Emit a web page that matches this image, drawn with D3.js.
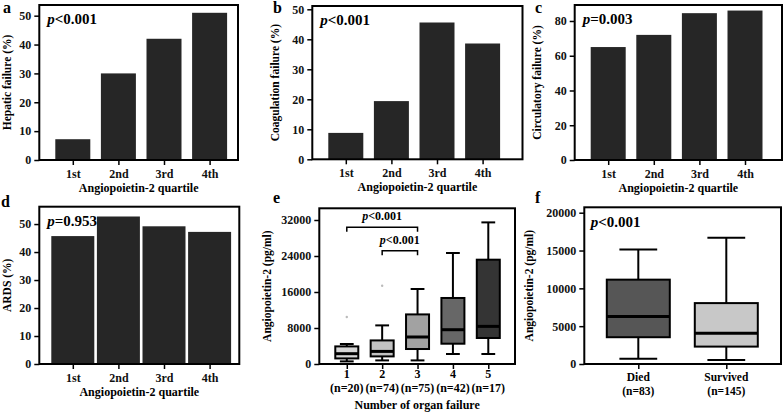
<!DOCTYPE html>
<html>
<head>
<meta charset="utf-8">
<script src="https://cdn.jsdelivr.net/npm/d3@7"></script>
<style>
  body { margin: 0; background: #fff; }
  svg { display: block; font-family: "Liberation Serif", "Times New Roman", serif; font-weight: bold; }
  .tick text { font-family: "Liberation Serif", "Times New Roman", serif; font-size: 12px; font-weight: bold; fill: #111; }
  .tick line { stroke: #000; stroke-width: 1.5; }
</style>
</head>
<body>
<svg id="chart" width="784" height="414"></svg>
<script>
// Bar panels (a-d)
const quartiles = ['1st', '2nd', '3rd', '4th'];
const hepatic = [7.2, 30, 42, 51];
const coagulation = [8.8, 19.4, 45.6, 38.6];
const circulatory = [65, 72, 84.5, 86];
const ards = [45.7, 52.7, 49.2, 47.2];

// Box panel e
const organGroups = ['1', '2', '3', '4', '5'];
const organN = ['(n=20)', '(n=74)', '(n=75)', '(n=42)', '(n=17)'];
const organMin = [580, 800, 800, 2220, 2220];
const organQ1 = [1240, 1690, 3330, 4510, 5780];
const organMedian = [2290, 2800, 6000, 7620, 8360];
const organQ3 = [3910, 5240, 11020, 14670, 23180];
const organMax = [4440, 8580, 16670, 24670, 31470];
const organOutliers = [{ group: '1', value: 10440 }, { group: '2', value: 17400 }];
const organFills = ['#d6d6d6', '#c2c2c2', '#a2a2a2', '#676767', '#343434'];

// Box panel f
const outcomes = ['Died', 'Survived'];
const outcomeN = ['(n=83)', '(n=145)'];
const outcomeMin = [710, 530];
const outcomeQ1 = [3540, 2300];
const outcomeMedian = [6280, 4070];
const outcomeQ3 = [11150, 8050];
const outcomeMax = [15130, 16680];
const outcomeFills = ['#565656', '#c8c8c8'];

const svg = d3.select('#chart');

function frame(g, w, h) {
  g.append('rect')
    .attr('x', 0).attr('y', 0)
    .attr('width', w).attr('height', h)
    .attr('fill', 'none')
    .attr('stroke', '#000')
    .attr('stroke-width', 2);
}

function yAxis(g, y, ticks) {
  g.append('g')
    .call(d3.axisLeft(y).tickValues(ticks).tickSize(5).tickPadding(3).tickFormat(d3.format('d')))
    .call(s => s.select('.domain').remove());
}

function yTitle(p, text) {
  svg.append('text')
    .attr('transform', `translate(${p.titleX}, ${(p.top + p.bottom) / 2}) rotate(-90)`)
    .attr('text-anchor', 'middle')
    .attr('font-size', 11.5)
    .text(text);
}

function panelLetter(letter, x, y) {
  svg.append('text')
    .attr('x', x).attr('y', y)
    .attr('font-size', 16)
    .text(letter);
}

function pText(g, x, y, rest, size) {
  const t = g.append('text').attr('x', x).attr('y', y).attr('font-size', size);
  t.append('tspan').attr('font-style', 'italic').text('p');
  t.append('tspan').text(rest);
}

function barPanel(p, values, ymax, ticks, label, pRest, barW) {
  const w = p.right - p.left, h = p.bottom - p.top;
  const g = svg.append('g').attr('transform', `translate(${p.left}, ${p.top})`);
  const x = d3.scalePoint().domain(quartiles).range([33.5, 170.3]);
  const y = d3.scaleLinear().domain([0, ymax]).range([h, 0]);

  g.selectAll('rect.bar')
    .data(quartiles)
    .join('rect')
    .attr('class', 'bar')
    .attr('x', d => x(d) - barW / 2)
    .attr('width', barW)
    .attr('y', (d, i) => y(values[i]))
    .attr('height', (d, i) => h - y(values[i]))
    .attr('fill', '#262626');

  frame(g, w, h);
  yAxis(g, y, ticks);

  g.append('g')
    .attr('transform', `translate(0, ${h})`)
    .call(d3.axisBottom(x).tickSize(5).tickPadding(4))
    .call(s => s.select('.domain').remove());

  svg.append('text')
    .attr('x', p.left + w / 2)
    .attr('y', p.bottom + 32)
    .attr('text-anchor', 'middle')
    .attr('font-size', 12)
    .text('Angiopoietin-2 quartile');

  yTitle(p, label);
  pText(g, 8, 19, pRest, 15);
}

function boxPanel(p, cats, stats, fills, ymax, ticks, boxW, xDomain, xRange) {
  const w = p.right - p.left, h = p.bottom - p.top;
  const g = svg.append('g').attr('transform', `translate(${p.left}, ${p.top})`);
  const x = d3.scaleLinear().domain(xDomain).range(xRange);
  const y = d3.scaleLinear().domain([0, ymax]).range([h, 0]);
  const cx = i => x(i + 1);

  cats.forEach((c, i) => {
    const xc = cx(i);
    // whiskers
    g.append('line')
      .attr('x1', xc).attr('x2', xc)
      .attr('y1', y(stats.max[i])).attr('y2', y(stats.min[i]))
      .attr('stroke', '#000').attr('stroke-width', 2);
    [stats.max[i], stats.min[i]].forEach(v => {
      g.append('line')
        .attr('x1', xc - boxW * 0.3).attr('x2', xc + boxW * 0.3)
        .attr('y1', y(v)).attr('y2', y(v))
        .attr('stroke', '#000').attr('stroke-width', 2);
    });
    g.append('rect')
      .attr('x', xc - boxW / 2).attr('width', boxW)
      .attr('y', y(stats.q3[i]))
      .attr('height', y(stats.q1[i]) - y(stats.q3[i]))
      .attr('fill', fills[i])
      .attr('stroke', '#000').attr('stroke-width', 2);
    g.append('line')
      .attr('x1', xc - boxW / 2).attr('x2', xc + boxW / 2)
      .attr('y1', y(stats.median[i])).attr('y2', y(stats.median[i]))
      .attr('stroke', '#000').attr('stroke-width', 3);
  });

  frame(g, w, h);
  yAxis(g, y, ticks);

  g.append('g')
    .attr('transform', `translate(0, ${h})`)
    .call(d3.axisBottom(x).tickValues(cats.map((c, i) => i + 1)).tickSize(5).tickFormat(''))
    .call(s => s.select('.domain').remove());

  return { g, x, y, cx };
}

// a
const pa = { left: 39.3, top: 5, right: 238, bottom: 160, titleX: 11 };
barPanel(pa, hepatic, 53.7, [0, 10, 20, 30, 40, 50], 'Hepatic failure (%)', '<0.001', 35);
panelLetter('a', 3, 13);

// b
const pb = { left: 312.3, top: 6, right: 522.5, bottom: 159.3, titleX: 279 };
barPanel(pb, coagulation, 51.1, [0, 10, 20, 30, 40, 50], 'Coagulation failure (%)', '<0.001', 35);
panelLetter('b', 273, 13);

// c
const pc = { left: 574.7, top: 5, right: 782, bottom: 160, titleX: 541 };
barPanel(pc, circulatory, 89.2, [0, 20, 40, 60, 80], 'Circulatory failure (%)', '=0.003', 35);
panelLetter('c', 535, 13);

// d
const pd = { left: 39.3, top: 206.7, right: 239.3, bottom: 364, titleX: 11 };
barPanel(pd, ards, 56.2, [0, 10, 20, 30, 40, 50], 'ARDS (%)', '=0.953', 43);
panelLetter('d', 1, 207);

// e
const pe = { left: 319.3, top: 208.3, right: 515, bottom: 364, titleX: 271 };
const e = boxPanel(pe, organGroups,
  { min: organMin, q1: organQ1, median: organMedian, q3: organQ3, max: organMax },
  organFills, 34600, [0, 8000, 16000, 24000, 32000], 23, [0.223, 5.82], [0, 198]);
e.g.selectAll('circle.outlier')
  .data(organOutliers)
  .join('circle')
  .attr('class', 'outlier')
  .attr('cx', d => e.cx(organGroups.indexOf(d.group)))
  .attr('cy', d => e.y(d.value))
  .attr('r', 1.2)
  .attr('fill', '#bbb');
organGroups.forEach((c, i) => {
  const xc = pe.left + e.cx(i);
  svg.append('text').attr('x', xc).attr('y', 378).attr('text-anchor', 'middle').attr('font-size', 12).text(c);
  svg.append('text').attr('x', xc).attr('y', 392).attr('text-anchor', 'middle').attr('font-size', 12).text(organN[i]);
});
svg.append('text')
  .attr('x', pe.left + (pe.right - pe.left) / 2)
  .attr('y', 409)
  .attr('text-anchor', 'middle')
  .attr('font-size', 12)
  .text('Number of organ failure');
yTitle(pe, 'Angiopoietin-2 (pg/ml)');
panelLetter('e', 273, 203);
// significance brackets
function bracket(i1, i2, yy, rest) {
  const x1 = e.cx(i1), x2 = e.cx(i2);
  e.g.append('path')
    .attr('d', `M${x1},${yy + 4.5}V${yy}H${x2}V${yy + 4.5}`)
    .attr('fill', 'none').attr('stroke', '#000').attr('stroke-width', 1.5);
  pText(e.g, (x1 + x2) / 2 - 20, yy - 7, rest, 12);
}
bracket(0, 2, 227.3 - pe.top, '<0.001');
bracket(1, 2, 250.7 - pe.top, '<0.001');

// f
const pf = { left: 584.3, top: 207.3, right: 781, bottom: 364, titleX: 533 };
const f = boxPanel(pf, outcomes,
  { min: outcomeMin, q1: outcomeQ1, median: outcomeMedian, q3: outcomeQ3, max: outcomeMax },
  outcomeFills, 20714, [0, 5000, 10000, 15000, 20000], 63, [0, 3], [-34, 230]);
outcomes.forEach((c, i) => {
  const xc = pf.left + f.cx(i);
  svg.append('text').attr('x', xc).attr('y', 381).attr('text-anchor', 'middle').attr('font-size', 11.5).text(c);
  svg.append('text').attr('x', xc).attr('y', 395).attr('text-anchor', 'middle').attr('font-size', 11.5).text(outcomeN[i]);
});
yTitle(pf, 'Angiopoietin-2 (pg/ml)');
pText(f.g, 6.5, 20, '<0.001', 15);
panelLetter('f', 535, 203);
</script>
</body>
</html>
